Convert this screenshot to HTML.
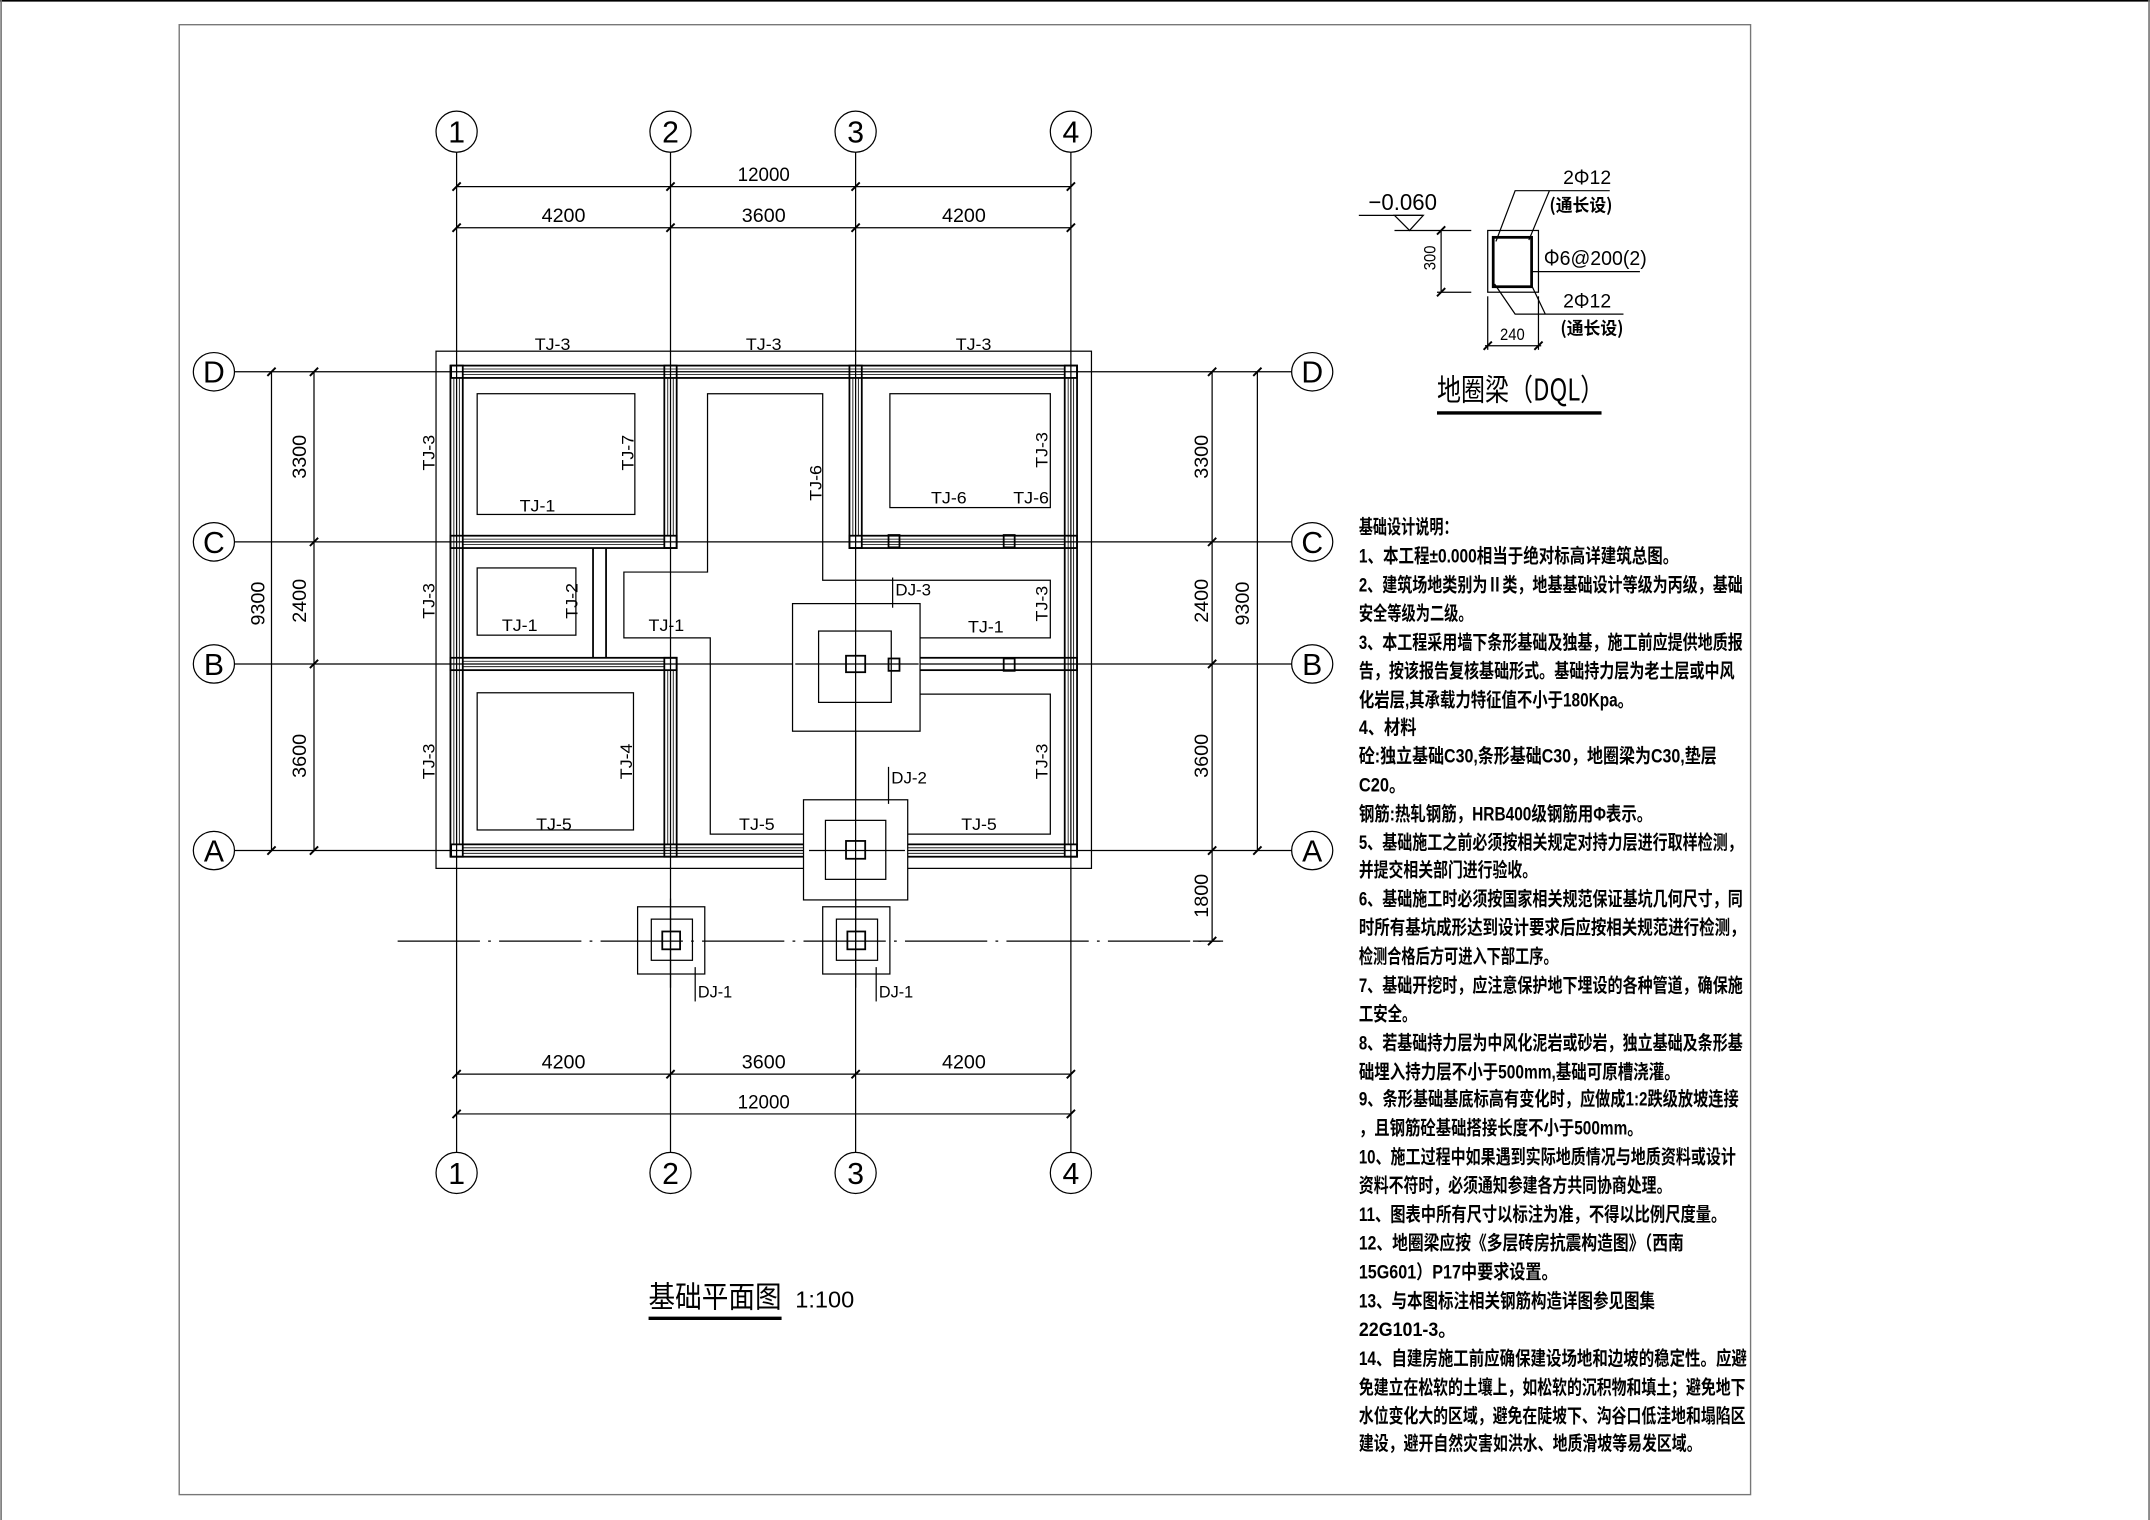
<!DOCTYPE html>
<html><head><meta charset="utf-8"><style>
html,body{margin:0;padding:0;background:#fff;}
svg{display:block;}
text{font-family:"Liberation Sans","Noto Sans CJK SC",sans-serif;fill:#000;}
.cjk{font-family:"Noto Sans CJK SC","WenQuanYi Zen Hei",sans-serif;}
</style></head><body>
<svg width="2150" height="1520" viewBox="0 0 1568 1108" preserveAspectRatio="none" xmlns="http://www.w3.org/2000/svg">
<rect width="1568" height="1108" fill="#fff"/>
<line x1="0" y1="0.5" x2="1568" y2="0.5" stroke="#000" stroke-width="1.4"/>
<line x1="0.8" y1="0" x2="0.8" y2="1108" stroke="#777" stroke-width="1.2"/>
<line x1="1567.3" y1="0" x2="1567.3" y2="1108" stroke="#777" stroke-width="1.2"/>
<rect x="130.7" y="18" width="1146" height="1071.5" fill="none" stroke="#777" stroke-width="1"/>

<g stroke="#000" stroke-width="0.9" fill="none">
<line x1="333" y1="111" x2="333" y2="840"/>
<line x1="489" y1="111" x2="489" y2="840"/>
<line x1="624" y1="111" x2="624" y2="840"/>
<line x1="781" y1="111" x2="781" y2="840"/>
<line x1="171" y1="271" x2="942" y2="271"/>
<line x1="171" y1="395" x2="942" y2="395"/>
<line x1="171" y1="484" x2="942" y2="484"/>
<line x1="171" y1="620" x2="942" y2="620"/>
<line x1="290" y1="686" x2="890" y2="686" stroke-dasharray="60 6 2 6"/>
<ellipse cx="333" cy="96" rx="15" ry="15"/><ellipse cx="489" cy="96" rx="15" ry="15"/>
<ellipse cx="624" cy="96" rx="15" ry="15"/><ellipse cx="781" cy="96" rx="15" ry="15"/>
<ellipse cx="333" cy="855" rx="15" ry="15"/><ellipse cx="489" cy="855" rx="15" ry="15"/>
<ellipse cx="624" cy="855" rx="15" ry="15"/><ellipse cx="781" cy="855" rx="15" ry="15"/>
<ellipse cx="156" cy="271" rx="15" ry="14"/><ellipse cx="156" cy="395" rx="15" ry="14"/>
<ellipse cx="156" cy="484" rx="15" ry="14"/><ellipse cx="156" cy="620" rx="15" ry="14"/>
<ellipse cx="957" cy="271" rx="15" ry="14"/><ellipse cx="957" cy="395" rx="15" ry="14"/>
<ellipse cx="957" cy="484" rx="15" ry="14"/><ellipse cx="957" cy="620" rx="15" ry="14"/>
<line x1="333" y1="136" x2="781" y2="136"/>
<line x1="333" y1="166" x2="781" y2="166"/>
<line x1="333" y1="783" x2="781" y2="783"/>
<line x1="333" y1="812" x2="781" y2="812"/>
<line x1="198" y1="271" x2="198" y2="620"/>
<line x1="229" y1="271" x2="229" y2="620"/>
<line x1="884" y1="271" x2="884" y2="686"/>
<line x1="917" y1="271" x2="917" y2="620"/>
<line x1="870" y1="686" x2="892" y2="686"/>
</g>
<g stroke="#000" stroke-width="1.4">
<path d="M330 139l6-6M486 139l6-6M621 139l6-6M778 139l6-6 M330 169l6-6M486 169l6-6M621 169l6-6M778 169l6-6"/>
<path d="M330 786l6-6M486 786l6-6M621 786l6-6M778 786l6-6 M330 815l6-6M778 815l6-6"/>
<path d="M195 274l6-6M195 623l6-6M226 274l6-6M226 398l6-6M226 487l6-6M226 623l6-6"/>
<path d="M881 274l6-6M881 398l6-6M881 487l6-6M881 623l6-6M881 689l6-6M914 274l6-6M914 623l6-6"/>
</g>

<rect x="318" y="256" width="478" height="377" fill="none" stroke="#000" stroke-width="0.9"/>

<g fill="none" stroke="#000">
<g stroke-width="1.3">
<rect x="329" y="266.5" width="456.5" height="9"/>
<rect x="329" y="615.5" width="456.5" height="9"/>
<rect x="328.5" y="266.5" width="9" height="358"/>
<rect x="776.5" y="266.5" width="9" height="358"/>
<rect x="484.5" y="266.5" width="9" height="133"/>
<rect x="484.5" y="479.5" width="9" height="145"/>
<rect x="619.5" y="266.5" width="9" height="133"/>
<rect x="328.5" y="390.5" width="165" height="9"/>
<rect x="619.5" y="390.5" width="166" height="9"/>
<rect x="328.5" y="479.5" width="165" height="9"/>
<rect x="619.5" y="479.5" width="166" height="9"/>
<line x1="432.5" y1="399.5" x2="432.5" y2="479.5"/>
<line x1="442" y1="399.5" x2="442" y2="479.5"/>
</g>
<g stroke-width="0.6">
<line x1="337" y1="269" x2="776" y2="269"/><line x1="337" y1="273" x2="776" y2="273"/>
<line x1="337" y1="618" x2="776" y2="618"/><line x1="337" y1="622" x2="776" y2="622"/>
<line x1="331" y1="276" x2="331" y2="615"/><line x1="335" y1="276" x2="335" y2="615"/>
<line x1="779" y1="276" x2="779" y2="615"/><line x1="783" y1="276" x2="783" y2="615"/>
<line x1="487" y1="276" x2="487" y2="390"/><line x1="491" y1="276" x2="491" y2="390"/>
<line x1="487" y1="489" x2="487" y2="615"/><line x1="491" y1="489" x2="491" y2="615"/>
<line x1="622" y1="276" x2="622" y2="390"/><line x1="626" y1="276" x2="626" y2="390"/>
<line x1="337" y1="393" x2="484" y2="393"/><line x1="337" y1="397" x2="484" y2="397"/>
<line x1="337" y1="482" x2="484" y2="482"/><line x1="337" y1="486" x2="484" y2="486"/>
<line x1="628" y1="393" x2="776" y2="393"/><line x1="628" y1="397" x2="776" y2="397"/>
</g>
</g>

<g fill="none" stroke="#000" stroke-width="0.9">
<rect x="348" y="287" width="115" height="88"/>
<rect x="649" y="287" width="117" height="83"/>
<rect x="348" y="414" width="72" height="49"/>
<rect x="348" y="505" width="114" height="100"/>
<polyline points="671,465 766,465 766,423 600,423 600,287 516,287 516,417 455,417 455,465 518,465 518,608 586,608"/>
<polyline points="671,506 766,506 766,608 662,608"/>
<rect x="578" y="440" width="93" height="93" fill="#fff"/>
<rect x="597" y="460" width="53" height="52"/>
<rect x="586" y="583" width="76" height="73" fill="#fff"/>
<rect x="602" y="598" width="44" height="43"/>
<rect x="465" y="661" width="49" height="49"/>
<rect x="475" y="670" width="30" height="30"/>
<rect x="600" y="661" width="49" height="49"/>
<rect x="610" y="670" width="30" height="30"/>
</g>
<g fill="none" stroke="#000" stroke-width="0.9">
<line x1="624" y1="440" x2="624" y2="660"/>
<line x1="489" y1="655" x2="489" y2="720"/>
<line x1="624" y1="655" x2="624" y2="720"/>
<line x1="580" y1="484" x2="670" y2="484"/>
<line x1="590" y1="620" x2="660" y2="620"/>
</g>
<g fill="none" stroke="#000" stroke-width="1.3">
<rect x="617" y="478" width="14" height="12"/>
<rect x="617" y="613" width="14" height="13"/>
<rect x="483" y="679" width="13" height="13"/>
<rect x="618" y="679" width="13" height="13"/>
<rect x="648" y="390" width="8" height="9"/><rect x="732" y="390" width="8" height="9"/>
<rect x="648" y="480" width="8" height="9"/><rect x="732" y="480" width="8" height="9"/>
</g>
<g stroke="#000" stroke-width="0.9">
<line x1="651" y1="421" x2="651" y2="443"/>
<line x1="648" y1="559" x2="648" y2="586"/>
<line x1="507" y1="705" x2="507" y2="730"/>
<line x1="639" y1="705" x2="639" y2="730"/>
</g>

<g font-size="22" text-anchor="middle" style="font-family:'Liberation Serif',serif">
<text x="333" y="104">1</text><text x="489" y="104">2</text><text x="624" y="104">3</text><text x="781" y="104">4</text>
<text x="333" y="863">1</text><text x="489" y="863">2</text><text x="624" y="863">3</text><text x="781" y="863">4</text>
<text x="156" y="279">D</text><text x="156" y="403">C</text><text x="156" y="492">B</text><text x="156" y="628">A</text>
<text x="957" y="279">D</text><text x="957" y="403">C</text><text x="957" y="492">B</text><text x="957" y="628">A</text>
</g>
<g font-size="14" text-anchor="middle">
<text x="557" y="132" textLength="38" lengthAdjust="spacingAndGlyphs">12000</text>
<text x="411" y="162" textLength="32" lengthAdjust="spacingAndGlyphs">4200</text>
<text x="557" y="162" textLength="32" lengthAdjust="spacingAndGlyphs">3600</text>
<text x="703" y="162" textLength="32" lengthAdjust="spacingAndGlyphs">4200</text>
<text x="411" y="779" textLength="32" lengthAdjust="spacingAndGlyphs">4200</text>
<text x="557" y="779" textLength="32" lengthAdjust="spacingAndGlyphs">3600</text>
<text x="703" y="779" textLength="32" lengthAdjust="spacingAndGlyphs">4200</text>
<text x="557" y="808" textLength="38" lengthAdjust="spacingAndGlyphs">12000</text>
<text transform="translate(223,333) rotate(-90)" textLength="32" lengthAdjust="spacingAndGlyphs">3300</text>
<text transform="translate(223,438) rotate(-90)" textLength="32" lengthAdjust="spacingAndGlyphs">2400</text>
<text transform="translate(223,551) rotate(-90)" textLength="32" lengthAdjust="spacingAndGlyphs">3600</text>
<text transform="translate(193,440) rotate(-90)" textLength="32" lengthAdjust="spacingAndGlyphs">9300</text>
<text transform="translate(881,333) rotate(-90)" textLength="32" lengthAdjust="spacingAndGlyphs">3300</text>
<text transform="translate(881,438) rotate(-90)" textLength="32" lengthAdjust="spacingAndGlyphs">2400</text>
<text transform="translate(881,551) rotate(-90)" textLength="32" lengthAdjust="spacingAndGlyphs">3600</text>
<text transform="translate(911,440) rotate(-90)" textLength="32" lengthAdjust="spacingAndGlyphs">9300</text>
<text transform="translate(881,653) rotate(-90)" textLength="32" lengthAdjust="spacingAndGlyphs">1800</text>
</g>
<g font-size="12" text-anchor="middle">
<text x="403" y="255" textLength="26" lengthAdjust="spacingAndGlyphs">TJ-3</text>
<text x="557" y="255" textLength="26" lengthAdjust="spacingAndGlyphs">TJ-3</text>
<text x="710" y="255" textLength="26" lengthAdjust="spacingAndGlyphs">TJ-3</text>
<text x="392" y="373" textLength="26" lengthAdjust="spacingAndGlyphs">TJ-1</text>
<text x="692" y="367" textLength="26" lengthAdjust="spacingAndGlyphs">TJ-6</text>
<text x="752" y="367" textLength="26" lengthAdjust="spacingAndGlyphs">TJ-6</text>
<text x="379" y="460" textLength="26" lengthAdjust="spacingAndGlyphs">TJ-1</text>
<text x="486" y="460" textLength="26" lengthAdjust="spacingAndGlyphs">TJ-1</text>
<text x="719" y="461" textLength="26" lengthAdjust="spacingAndGlyphs">TJ-1</text>
<text x="404" y="605" textLength="26" lengthAdjust="spacingAndGlyphs">TJ-5</text>
<text x="552" y="605" textLength="26" lengthAdjust="spacingAndGlyphs">TJ-5</text>
<text x="714" y="605" textLength="26" lengthAdjust="spacingAndGlyphs">TJ-5</text>
<text transform="translate(317,330) rotate(-90)" textLength="26" lengthAdjust="spacingAndGlyphs">TJ-3</text>
<text transform="translate(317,438) rotate(-90)" textLength="26" lengthAdjust="spacingAndGlyphs">TJ-3</text>
<text transform="translate(317,555) rotate(-90)" textLength="26" lengthAdjust="spacingAndGlyphs">TJ-3</text>
<text transform="translate(462,330) rotate(-90)" textLength="26" lengthAdjust="spacingAndGlyphs">TJ-7</text>
<text transform="translate(599,352) rotate(-90)" textLength="26" lengthAdjust="spacingAndGlyphs">TJ-6</text>
<text transform="translate(764,328) rotate(-90)" textLength="26" lengthAdjust="spacingAndGlyphs">TJ-3</text>
<text transform="translate(764,440) rotate(-90)" textLength="26" lengthAdjust="spacingAndGlyphs">TJ-3</text>
<text transform="translate(764,555) rotate(-90)" textLength="26" lengthAdjust="spacingAndGlyphs">TJ-3</text>
<text transform="translate(421,438) rotate(-90)" textLength="26" lengthAdjust="spacingAndGlyphs">TJ-2</text>
<text transform="translate(461,555) rotate(-90)" textLength="26" lengthAdjust="spacingAndGlyphs">TJ-4</text>
</g>
<g font-size="12">
<text x="653" y="434" textLength="26" lengthAdjust="spacingAndGlyphs">DJ-3</text>
<text x="650" y="571" textLength="26" lengthAdjust="spacingAndGlyphs">DJ-2</text>
<text x="509" y="727" textLength="25" lengthAdjust="spacingAndGlyphs">DJ-1</text>
<text x="641" y="727" textLength="25" lengthAdjust="spacingAndGlyphs">DJ-1</text>
</g>
<text x="473" y="953" font-size="22" class="cjk" textLength="97" lengthAdjust="spacingAndGlyphs">基础平面图</text>
<line x1="473" y1="961" x2="570" y2="961" stroke="#000" stroke-width="2.5"/>
<text x="580" y="953" font-size="17" textLength="43" lengthAdjust="spacingAndGlyphs">1:100</text>

<g stroke="#000" stroke-width="0.9" fill="none">
<rect x="1085" y="168" width="37" height="45"/>
<rect x="1089" y="173" width="28" height="36" stroke-width="2"/>
<line x1="991" y1="157" x2="1038" y2="157"/>
<path d="M1017 157 L1038 157 L1028 168 Z"/>
<line x1="1017" y1="168" x2="1073" y2="168"/>
<line x1="1048" y1="213" x2="1073" y2="213"/>
<line x1="1051" y1="168" x2="1051" y2="213"/>
<line x1="1085" y1="216" x2="1085" y2="255"/>
<line x1="1122" y1="216" x2="1122" y2="255"/>
<line x1="1083" y1="252" x2="1124" y2="252"/>
<path d="M1091 176 L1105 139 L1174 139 M1115 175 L1130 139"/>
<line x1="1117" y1="198" x2="1196" y2="198"/>
<path d="M1090 207 L1105 229 L1184 229 M1117 208 L1127 229"/>
</g>
<g stroke="#000" stroke-width="1.4"><path d="M1048 171l6-6M1048 216l6-6M1082 255l6-6M1119 255l6-6"/></g>
<text x="998" y="153" font-size="17" textLength="50" lengthAdjust="spacingAndGlyphs">−0.060</text>
<text transform="translate(1047,197) rotate(-90)" font-size="12" textLength="18" lengthAdjust="spacingAndGlyphs">300</text>
<text x="1094" y="248" font-size="12" textLength="18" lengthAdjust="spacingAndGlyphs">240</text>
<text x="1140" y="134" font-size="14" textLength="35" lengthAdjust="spacingAndGlyphs">2<tspan class="cjk">Φ</tspan>12</text>
<text x="1130" y="154" font-size="13" class="cjk" font-weight="bold" textLength="46" lengthAdjust="spacingAndGlyphs">(通长设)</text>
<text x="1126" y="193" font-size="15" textLength="75" lengthAdjust="spacingAndGlyphs"><tspan class="cjk">Φ</tspan>6@200(2)</text>
<text x="1140" y="224" font-size="14" textLength="35" lengthAdjust="spacingAndGlyphs">2<tspan class="cjk">Φ</tspan>12</text>
<text x="1138" y="244" font-size="13" class="cjk" font-weight="bold" textLength="46" lengthAdjust="spacingAndGlyphs">(通长设)</text>
<text x="1048" y="292" font-size="22" class="cjk" textLength="122" lengthAdjust="spacingAndGlyphs">地圈梁（DQL）</text>
<line x1="1048" y1="301" x2="1168" y2="301" stroke="#000" stroke-width="2.5"/>

<g font-size="14" class="cjk" font-weight="bold">
<text x="991" y="389" textLength="72" lengthAdjust="spacingAndGlyphs">基础设计说明：</text>
<text x="991" y="410" textLength="233" lengthAdjust="spacingAndGlyphs">1、本工程±0.000相当于绝对标高详建筑总图。</text>
<text x="991" y="431" textLength="280" lengthAdjust="spacingAndGlyphs">2、建筑场地类别为Ⅱ类，地基基础设计等级为丙级，基础</text>
<text x="991" y="452" textLength="83" lengthAdjust="spacingAndGlyphs">安全等级为二级。</text>
<text x="991" y="473" textLength="280" lengthAdjust="spacingAndGlyphs">3、本工程采用墙下条形基础及独基，施工前应提供地质报</text>
<text x="991" y="494" textLength="274" lengthAdjust="spacingAndGlyphs">告，按该报告复核基础形式。基础持力层为老土层或中风</text>
<text x="991" y="515" textLength="200" lengthAdjust="spacingAndGlyphs">化岩层,其承载力特征值不小于180Kpa。</text>
<text x="991" y="535" textLength="42" lengthAdjust="spacingAndGlyphs">4、材料</text>
<text x="991" y="556" textLength="261" lengthAdjust="spacingAndGlyphs">砼:独立基础C30,条形基础C30，地圈梁为C30,垫层</text>
<text x="991" y="577" textLength="34" lengthAdjust="spacingAndGlyphs">C20。</text>
<text x="991" y="598" textLength="214" lengthAdjust="spacingAndGlyphs">钢筋:热轧钢筋，HRB400级钢筋用Φ表示。</text>
<text x="991" y="619" textLength="280" lengthAdjust="spacingAndGlyphs">5、基础施工之前必须按相关规定对持力层进行取样检测，</text>
<text x="991" y="639" textLength="130" lengthAdjust="spacingAndGlyphs">并提交相关部门进行验收。</text>
<text x="991" y="660" textLength="280" lengthAdjust="spacingAndGlyphs">6、基础施工时必须按国家相关规范保证基坑几何尺寸，同</text>
<text x="991" y="681" textLength="282" lengthAdjust="spacingAndGlyphs">时所有基坑成形达到设计要求后应按相关规范进行检测，</text>
<text x="991" y="702" textLength="145" lengthAdjust="spacingAndGlyphs">检测合格后方可进入下部工序。</text>
<text x="991" y="723" textLength="280" lengthAdjust="spacingAndGlyphs">7、基础开挖时，应注意保护地下埋设的各种管道，确保施</text>
<text x="991" y="744" textLength="42" lengthAdjust="spacingAndGlyphs">工安全。</text>
<text x="991" y="765" textLength="280" lengthAdjust="spacingAndGlyphs">8、若基础持力层为中风化泥岩或砂岩，独立基础及条形基</text>
<text x="991" y="786" textLength="234" lengthAdjust="spacingAndGlyphs">础埋入持力层不小于500mm,基础可原槽浇灌。</text>
<text x="991" y="806" textLength="277" lengthAdjust="spacingAndGlyphs">9、条形基础基底标高有变化时，应做成1:2跌级放坡连接</text>
<text x="991" y="827" textLength="207" lengthAdjust="spacingAndGlyphs">，且钢筋砼基础搭接长度不小于500mm。</text>
<text x="991" y="848" textLength="275" lengthAdjust="spacingAndGlyphs">10、施工过程中如果遇到实际地质情况与地质资料或设计</text>
<text x="991" y="869" textLength="228" lengthAdjust="spacingAndGlyphs">资料不符时，必须通知参建各方共同协商处理。</text>
<text x="991" y="890" textLength="268" lengthAdjust="spacingAndGlyphs">11、图表中所有尺寸以标注为准，不得以比例尺度量。</text>
<text x="991" y="911" textLength="237" lengthAdjust="spacingAndGlyphs">12、地圈梁应按《多层砖房抗震构造图》（西南</text>
<text x="991" y="932" textLength="145" lengthAdjust="spacingAndGlyphs">15G601）P17中要求设置。</text>
<text x="991" y="953" textLength="216" lengthAdjust="spacingAndGlyphs">13、与本图标注相关钢筋构造详图参见图集</text>
<text x="991" y="974" textLength="71" lengthAdjust="spacingAndGlyphs">22G101-3。</text>
<text x="991" y="995" textLength="283" lengthAdjust="spacingAndGlyphs">14、自建房施工前应确保建设场地和边坡的稳定性。应避</text>
<text x="991" y="1016" textLength="282" lengthAdjust="spacingAndGlyphs">免建立在松软的土壤上，如松软的沉积物和填土；避免地下</text>
<text x="991" y="1037" textLength="282" lengthAdjust="spacingAndGlyphs">水位变化大的区域，避免在陡坡下、沟谷口低洼地和塌陷区</text>
<text x="991" y="1057" textLength="250" lengthAdjust="spacingAndGlyphs">建设，避开自然灾害如洪水、地质滑坡等易发区域。</text>
</g>
</svg>
</body></html>
